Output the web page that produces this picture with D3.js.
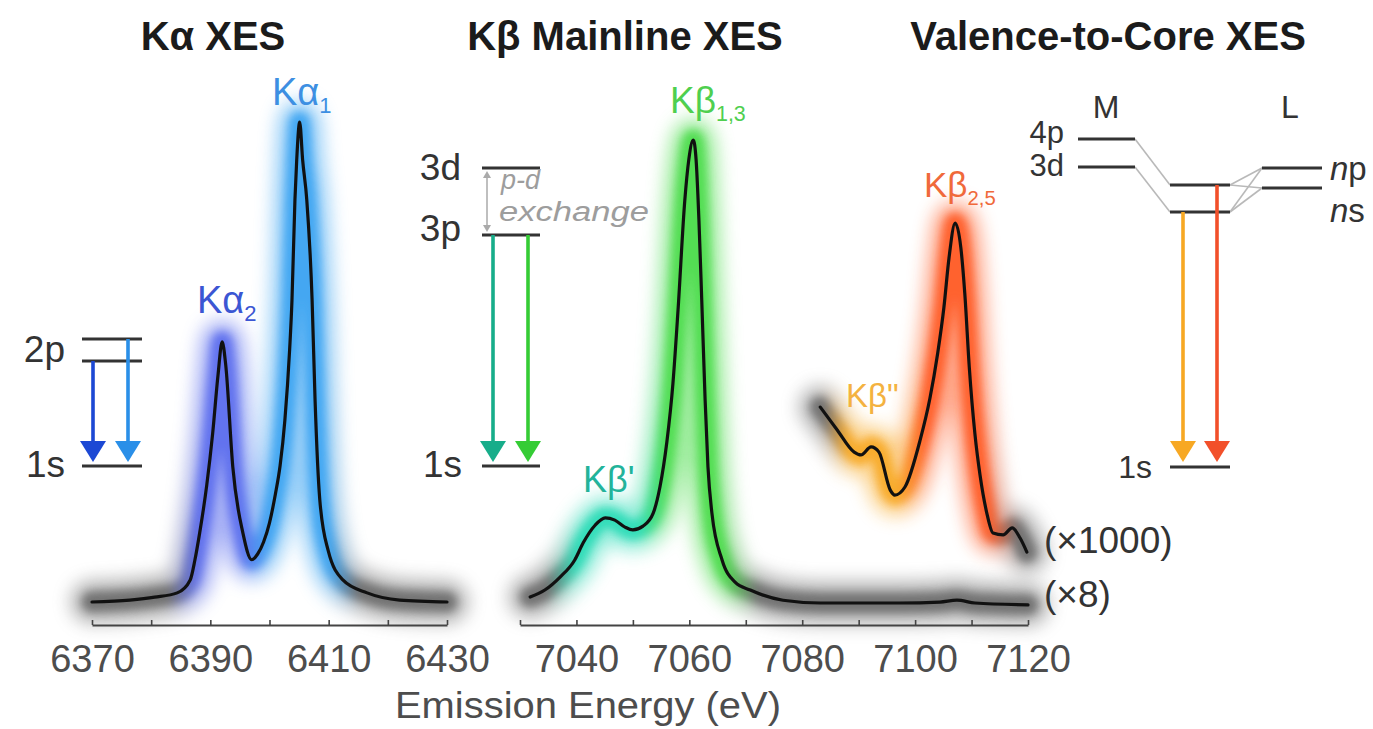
<!DOCTYPE html>
<html>
<head>
<meta charset="utf-8">
<script src="https://cdn.jsdelivr.net/npm/d3@7"></script>
<style>
  html, body { margin: 0; padding: 0; background: #fff; }
  svg { display: block; }
  text { font-family: "Liberation Sans", Arial, Helvetica, sans-serif; }
</style>
</head>
<body>
<svg id="chart" width="1373" height="729"></svg>
<script>
// Fe Kα emission, normalised to the Kα1 maximum
const kaEnergy = [6370.0, 6376.4, 6380.6, 6384.4, 6386.6, 6387.4, 6388.2, 6389.4, 6390.4, 6391.3,
  6392.0, 6392.6, 6393.8, 6395.5, 6397.0, 6398.0, 6399.0, 6400.0, 6401.0, 6401.8,
  6402.6, 6403.4, 6403.8, 6404.3, 6404.6, 6405.1, 6405.6, 6406.3, 6407.2, 6407.7,
  6408.5, 6409.9, 6412.4, 6416.5, 6422.0, 6430.0];
const kaIntensity = [0.000, 0.004, 0.010, 0.019, 0.046, 0.088, 0.144, 0.244, 0.352, 0.473,
  0.542, 0.494, 0.281, 0.144, 0.088, 0.100, 0.125, 0.165, 0.225, 0.285,
  0.379, 0.525, 0.629, 0.838, 0.921, 1.000, 0.921, 0.838, 0.629, 0.421,
  0.213, 0.108, 0.046, 0.019, 0.004, 0.000];

// Kβ mainline (shown ×8), normalised to the Kβ1,3 maximum
const kbEnergy = [7031.8, 7034.4, 7037.1, 7039.7, 7041.2, 7043.3, 7045.1, 7046.8, 7048.6, 7050.0,
  7051.8, 7053.6, 7054.8, 7056.0, 7057.1, 7058.0, 7059.2, 7059.9, 7060.7, 7061.2,
  7061.7, 7062.2, 7062.8, 7063.3, 7064.0, 7065.8, 7068.1, 7070.8, 7076.6, 7083.2,
  7097.3, 7104.4, 7107.4, 7110.6, 7120.0];
const kbIntensity = [0.013, 0.028, 0.056, 0.093, 0.130, 0.168, 0.184, 0.179, 0.164, 0.158,
  0.166, 0.194, 0.251, 0.346, 0.475, 0.633, 0.870, 0.957, 1.000, 0.957,
  0.827, 0.654, 0.438, 0.294, 0.194, 0.093, 0.045, 0.028, 0.006, 0.000,
  0.000, 0.002, 0.006, 0.000, -0.004];

// valence-to-core region (shown ×1000), normalised to the Kβ2,5 maximum
const vtcEnergy = [7083.2, 7086.2, 7089.2, 7090.4, 7092.2, 7093.6, 7095.6, 7096.4, 7098.2, 7100.9,
  7102.6, 7104.0, 7105.1, 7106.0, 7107.1, 7108.1, 7108.8, 7109.6, 7110.6, 7111.5,
  7112.7, 7113.8, 7115.6, 7117.2, 7118.6, 7119.8];
const vtcIntensity = [0.477, 0.412, 0.349, 0.341, 0.364, 0.349, 0.241, 0.227, 0.250, 0.384,
  0.500, 0.630, 0.760, 0.900, 1.000, 0.930, 0.800, 0.590, 0.400, 0.284,
  0.176, 0.119, 0.114, 0.134, 0.105, 0.065];

const kaTickValues = [6370, 6380, 6390, 6400, 6410, 6420, 6430];
const kaTickLabels = [6370, 6390, 6410, 6430];
const kbTickValues = [7030, 7040, 7050, 7060, 7070, 7080, 7090, 7100, 7110, 7120];
const kbTickLabels = [7040, 7060, 7080, 7100, 7120];

const panelTitles = ["Kα XES", "Kβ Mainline XES", "Valence-to-Core XES"];
const axisTitle = "Emission Energy (eV)";

// ---------------------------------------------------------------------------
const W = 1373, H = 729;
const axisY = 625;
const svg = d3.select("#chart");
const defs = svg.append("defs");

const xKa = d3.scaleLinear().domain([6370, 6430]).range([92, 447]);
const yKa = d3.scaleLinear().domain([0, 1]).range([602, 122]);
const xKb = d3.scaleLinear().domain([7030, 7120]).range([520, 1028]);
const yKb = d3.scaleLinear().domain([0, 1]).range([603, 140]);
const yVtc = d3.scaleLinear().domain([0, 1]).range([575, 223]);

// soft halo filters
function blurFilter(id, sd) {
  const f = defs.append("filter").attr("id", id)
    .attr("filterUnits", "userSpaceOnUse")
    .attr("x", 0).attr("y", 0).attr("width", W).attr("height", H);
  f.append("feGaussianBlur").attr("stdDeviation", sd);
}
blurFilter("haloWide", 9);
blurFilter("haloTight", 4);

// horizontal colour ramps that follow each spectrum
const grey = "#707070";
function ramp(id, x, stops) {
  const [r0, r1] = x.range();
  const g = defs.append("linearGradient").attr("id", id)
    .attr("gradientUnits", "userSpaceOnUse")
    .attr("x1", r0).attr("x2", r1).attr("y1", 0).attr("y2", 0);
  stops.forEach(([e, c]) => g.append("stop")
    .attr("offset", Math.max(0, Math.min(1, (x(e) - r0) / (r1 - r0))))
    .attr("stop-color", c));
}
ramp("rampKa", xKa, [[6370, grey], [6383, grey], [6388, "#5f70ee"], [6395, "#5f70ee"],
  [6400, "#3fa6f2"], [6410, "#3fa6f2"], [6415, grey], [6430, grey]]);
ramp("rampKb", xKb, [[7030, grey], [7035, grey], [7040, "#2fdcb8"], [7051, "#2fdcb8"],
  [7056, "#4fdd4f"], [7066, "#4fdd4f"], [7072, grey], [7120, grey]]);
ramp("rampVtc", xKb, [[7030, grey], [7084, grey], [7088, "#f8ab2a"], [7097, "#f8ab2a"],
  [7102, "#ff5e2a"], [7113, "#ff5e2a"], [7118, grey], [7120, grey]]);

function trace(energy, intensity, x, y, rampId) {
  const pts = energy.map((e, i) => [x(e), y(intensity[i])]);
  const line = d3.line().curve(d3.curveMonotoneX);
  const g = svg.append("g");
  g.append("path").attr("d", line(pts)).attr("fill", "none")
    .attr("stroke", `url(#${rampId})`).attr("stroke-width", 42)
    .attr("stroke-linejoin", "round").attr("stroke-linecap", "round")
    .attr("opacity", 0.55).attr("filter", "url(#haloWide)");
  g.append("path").attr("d", line(pts)).attr("fill", "none")
    .attr("stroke", `url(#${rampId})`).attr("stroke-width", 20)
    .attr("stroke-linejoin", "round").attr("stroke-linecap", "round")
    .attr("opacity", 0.95).attr("filter", "url(#haloTight)");
  g.append("path").attr("d", line(pts)).attr("fill", "none")
    .attr("stroke", "#111").attr("stroke-width", 3.2)
    .attr("stroke-linejoin", "round").attr("stroke-linecap", "round");
}
trace(kaEnergy, kaIntensity, xKa, yKa, "rampKa");
trace(kbEnergy, kbIntensity, xKb, yKb, "rampKb");
trace(vtcEnergy, vtcIntensity, xKb, yVtc, "rampVtc");

// energy axes
function energyAxis(x, values, labels) {
  const ax = d3.axisBottom(x).tickValues(values)
    .tickSize(-5).tickSizeOuter(0).tickPadding(20)
    .tickFormat(d => labels.includes(d) ? d : "");
  const g = svg.append("g").attr("transform", `translate(0,${axisY})`).call(ax);
  g.select(".domain").attr("stroke", "#444").attr("stroke-width", 2);
  g.selectAll(".tick line").attr("stroke", "#444").attr("stroke-width", 1.6);
  g.selectAll(".tick text").attr("fill", "#4d4d4d").attr("font-size", 38)
    .attr("font-family", "'Liberation Sans', Arial, sans-serif");
}
energyAxis(xKa, kaTickValues, kaTickLabels);
energyAxis(xKb, kbTickValues, kbTickLabels);

svg.append("text").attr("x", 588).attr("y", 718).attr("text-anchor", "middle")
  .attr("font-size", 37).attr("fill", "#4d4d4d")
  .attr("textLength", 386).attr("lengthAdjust", "spacingAndGlyphs").text(axisTitle);

// panel titles
[[213, panelTitles[0]], [625, panelTitles[1]], [1108, panelTitles[2]]].forEach(([cx, t]) =>
  svg.append("text").attr("x", cx).attr("y", 50).attr("text-anchor", "middle")
    .attr("font-size", 40).attr("font-weight", "bold").attr("fill", "#1b1b1b").text(t));

// peak labels with subscripts
function peakLabel(x, y, main, sub, color, size) {
  const t = svg.append("text").attr("x", x).attr("y", y)
    .attr("font-size", size).attr("fill", color);
  t.append("tspan").text(main);
  if (sub) t.append("tspan").attr("font-size", size * 0.58).attr("dy", size * 0.22).text(sub);
}
peakLabel(272, 105, "Kα", "1", "#3d8fe2", 38);
peakLabel(197, 313, "Kα", "2", "#3b56d3", 38);
peakLabel(670, 113, "Kβ", "1,3", "#4fcf4f", 37);
peakLabel(583, 492, "Kβ'", null, "#22b39a", 36);
peakLabel(924, 197, "Kβ", "2,5", "#f0693a", 35);
peakLabel(846, 407, "Kβ\"", null, "#f4b240", 33);

// scale-factor notes
svg.append("text").attr("x", 1044).attr("y", 553).attr("font-size", 37).attr("fill", "#333").text("(×1000)");
svg.append("text").attr("x", 1044).attr("y", 607).attr("font-size", 37).attr("fill", "#333").text("(×8)");

// ---------------------------------------------------------------------------
// energy-level schematics
const levelColor = "#333";
function level(x1, x2, y) {
  svg.append("line").attr("x1", x1).attr("x2", x2).attr("y1", y).attr("y2", y)
    .attr("stroke", levelColor).attr("stroke-width", 3);
}
function levelText(x, y, txt, anchor, size) {
  svg.append("text").attr("x", x).attr("y", y).attr("text-anchor", anchor)
    .attr("font-size", size).attr("fill", "#333").text(txt);
}
function arrow(x, y1, y2, color) {
  const hw = 13, hh = 21;
  svg.append("line").attr("x1", x).attr("x2", x).attr("y1", y1).attr("y2", y2 - hh + 2)
    .attr("stroke", color).attr("stroke-width", 3.6);
  svg.append("path").attr("d", `M${x - hw},${y2 - hh}L${x + hw},${y2 - hh}L${x},${y2}Z`)
    .attr("fill", color);
}

// Kα: 2p -> 1s
level(82, 142, 339); level(82, 142, 361); level(82, 142, 466);
levelText(65, 362, "2p", "end", 37);
levelText(65, 477, "1s", "end", 37);
arrow(93, 361, 462, "#1c48d4");
arrow(128, 339, 462, "#2a8fe8");

// Kβ mainline: 3p -> 1s with 3p–3d exchange
level(482, 540, 168); level(482, 540, 235); level(482, 540, 466);
levelText(461, 180, "3d", "end", 37);
levelText(461, 241, "3p", "end", 37);
levelText(462, 477, "1s", "end", 37);
arrow(493, 235, 462, "#17ad8a");
arrow(528, 235, 462, "#35cc35");
svg.append("line").attr("x1", 487).attr("x2", 487).attr("y1", 175).attr("y2", 228)
  .attr("stroke", "#aaa").attr("stroke-width", 1.5);
svg.append("path").attr("d", "M483,178L487,171L491,178Z").attr("fill", "#aaa");
svg.append("path").attr("d", "M483,225L487,232L491,225Z").attr("fill", "#aaa");
svg.append("text").attr("x", 501).attr("y", 189).attr("font-size", 27)
  .attr("font-style", "italic").attr("fill", "#9d9d9d").text("p-d");
svg.append("text").attr("x", 499).attr("y", 221).attr("font-size", 27)
  .attr("font-style", "italic").attr("fill", "#9d9d9d")
  .attr("textLength", 150).attr("lengthAdjust", "spacingAndGlyphs").text("exchange");

// valence-to-core: metal / ligand molecular orbitals -> 1s
const corr = [[1135, 139, 1170, 185], [1135, 167, 1170, 212],
  [1262, 168, 1230, 185], [1262, 168, 1230, 212], [1262, 188, 1230, 185], [1262, 188, 1230, 212]];
corr.forEach(([a, b, c, d]) => svg.append("line").attr("x1", a).attr("y1", b).attr("x2", c).attr("y2", d)
  .attr("stroke", "#b9b9b9").attr("stroke-width", 1.6));
level(1078, 1135, 139); level(1078, 1135, 167);
level(1170, 1230, 185); level(1170, 1230, 212);
level(1262, 1322, 168); level(1262, 1322, 188);
level(1170, 1230, 467);
levelText(1106, 118, "M", "middle", 32);
levelText(1290, 118, "L", "middle", 32);
levelText(1064, 143, "4p", "end", 31);
levelText(1064, 176, "3d", "end", 31);
levelText(1152, 478, "1s", "end", 32);
[[180, "p"], [222, "s"]].forEach(([y, orb]) => {
  const t = svg.append("text").attr("x", 1330).attr("y", y).attr("font-size", 33).attr("fill", "#333");
  t.append("tspan").attr("font-style", "italic").text("n");
  t.append("tspan").text(orb);
});
arrow(1183, 212, 462, "#f7a823");
arrow(1217, 185, 462, "#f2502a");
</script>
</body>
</html>
